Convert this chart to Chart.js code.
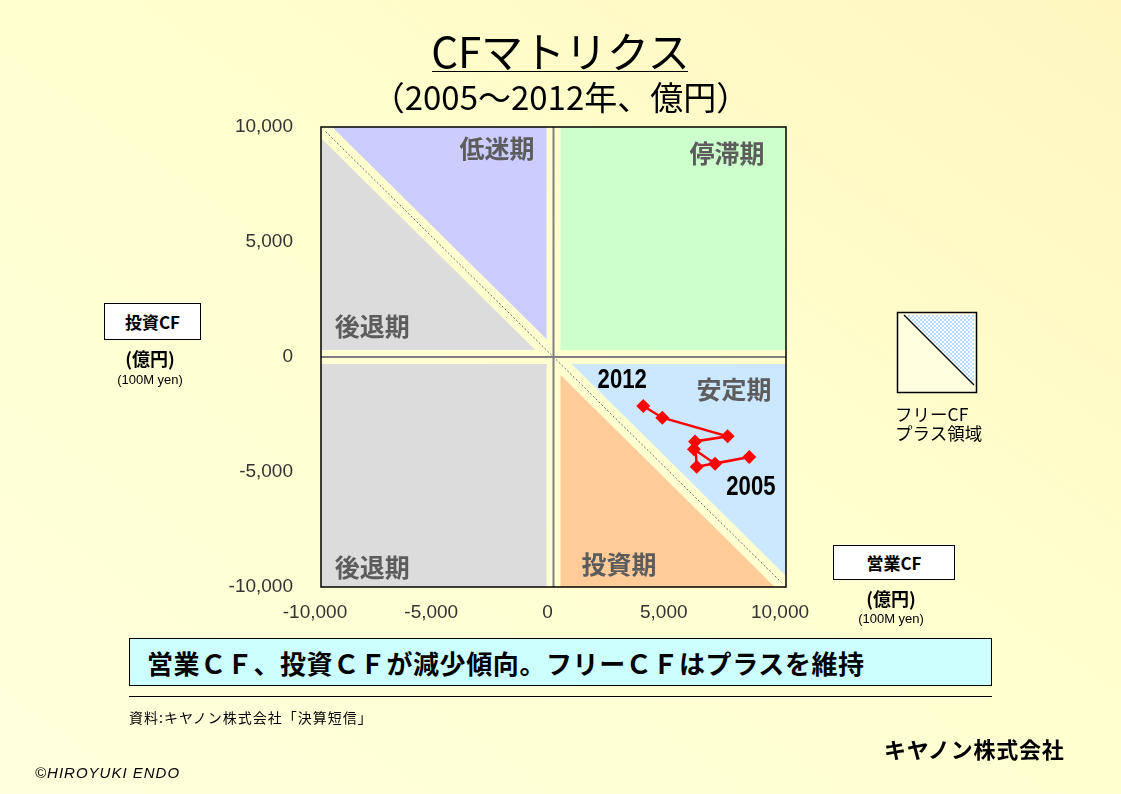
<!DOCTYPE html>
<html><head><meta charset="utf-8">
<script src="https://cdn.jsdelivr.net/npm/chart.js@4.4.0/dist/chart.umd.min.js"></script>
<style>
html,body{margin:0;padding:0}
body{width:1121px;height:794px;position:relative;overflow:hidden;background:linear-gradient(to bottom left,#fff6bf 0%,#ffffcf 45%,#ffffdc 100%);font-family:"Noto Sans CJK JP",sans-serif;color:#000}
.abs{position:absolute;white-space:nowrap}
#c{position:absolute;left:0;top:0}
</style></head><body>
<canvas id="c" width="1121" height="794"></canvas>
<div class="abs" style="left:0;width:1121px;top:27px;height:46px;line-height:46px;text-align:center;font-size:42px">CFマトリクス</div>
<div class="abs" style="left:432px;width:256px;top:71px;border-top:1.5px solid #000"></div>
<div class="abs" style="left:0;width:1121px;top:77px;height:38px;line-height:38px;text-align:center;font-size:33px">（2005～2012年、億円）</div>

<div class="abs" style="left:104px;top:303px;width:95px;height:35px;background:#fff;border:1px solid #000;text-align:center;line-height:35px;font-size:17px;font-weight:bold">投資CF</div>
<div class="abs" style="left:90px;width:120px;top:346px;text-align:center;font-size:18px;font-weight:bold;line-height:24px">(億円)</div>
<div class="abs" style="left:90px;width:120px;top:371px;text-align:center;font-size:13px;line-height:18px;font-family:'Liberation Sans',sans-serif">(100M yen)</div>

<div class="abs" style="left:833px;top:545px;width:120px;height:33px;background:#fff;border:1px solid #000;text-align:center;line-height:33px;font-size:17px;font-weight:bold">営業CF</div>
<div class="abs" style="left:831px;width:120px;top:586px;text-align:center;font-size:18px;font-weight:bold;line-height:24px">(億円)</div>
<div class="abs" style="left:831px;width:120px;top:610px;text-align:center;font-size:13px;line-height:18px;font-family:'Liberation Sans',sans-serif">(100M yen)</div>

<svg class="abs" style="left:890px;top:305px" width="100" height="95">
 <defs><pattern id="chk" width="4" height="4" patternUnits="userSpaceOnUse">
  <rect width="4" height="4" fill="#ffffff"/><rect width="2" height="2" fill="#b8dcff"/><rect x="2" y="2" width="2" height="2" fill="#b8dcff"/></pattern></defs>
 <rect x="7.5" y="7.5" width="79" height="80" fill="#ffffe0" stroke="#000" stroke-width="1.5"/>
 <polygon points="14,10 84,10 84,80" fill="url(#chk)"/>
 <line x1="14" y1="10" x2="84" y2="80" stroke="#000" stroke-width="1.2"/>
</svg>
<div class="abs" style="left:895px;top:404px;font-size:17.5px;line-height:19px">フリーCF<br>プラス領域</div>

<div class="abs" style="left:129px;top:638px;width:861px;height:46px;background:#ccffff;border:1px solid #000;"></div>
<div class="abs" style="left:147px;top:640px;height:46px;line-height:46px;font-size:26px;font-weight:bold;letter-spacing:0.6px">営業ＣＦ、投資ＣＦが減少傾向。フリーＣＦはプラスを維持</div>
<div class="abs" style="left:129px;width:863px;top:696px;border-top:1px solid #000"></div>
<div class="abs" style="left:129px;top:707px;font-size:14px;line-height:20px;letter-spacing:1px">資料:キヤノン株式会社「決算短信」</div>
<div class="abs" style="left:884px;top:734px;font-size:22px;line-height:28px;font-weight:bold;letter-spacing:0.8px">キヤノン株式会社</div>
<div class="abs" style="left:35px;top:763px;font-size:15px;line-height:20px;font-style:italic;letter-spacing:1px;font-family:'Liberation Sans',sans-serif">©HIROYUKI  ENDO</div>

<script>
// ---- data ----
const YEARS = ['2005','2006','2007','2008','2009','2010','2011','2012'];
const OPERATING_CF = [6040, 6950, 8420, 6160, 6090, 7490, 4680, 3860];
const INVESTING_CF = [-4010, -4640, -4350, -4770, -3670, -3450, -2640, -2130];
const AXIS_MIN = -10000, AXIS_MAX = 10000, AXIS_STEP = 5000;
const QUADRANT_LABELS = ['低迷期','停滞期','後退期','安定期','後退期','投資期'];

const points = YEARS.map((y,i)=>({x:OPERATING_CF[i], y:INVESTING_CF[i]}));

// styling / layout of the background matrix (value units)
const GAP = 300, DGAP = 480;
const regions = [
  {color:'#dcdcdc', pts:[[AXIS_MIN,GAP],[AXIS_MIN,AXIS_MAX-DGAP],[-DGAP-GAP,GAP]]},
  {color:'#ccccff', pts:[[AXIS_MIN+DGAP,AXIS_MAX],[-GAP,AXIS_MAX],[-GAP,DGAP+GAP]]},
  {color:'#ccffcc', pts:[[GAP,GAP],[GAP,AXIS_MAX],[AXIS_MAX,AXIS_MAX],[AXIS_MAX,GAP]]},
  {color:'#dcdcdc', pts:[[AXIS_MIN,AXIS_MIN],[AXIS_MIN,-GAP],[-GAP,-GAP],[-GAP,AXIS_MIN]]},
  {color:'#ffcc99', pts:[[GAP,-GAP-DGAP],[GAP,AXIS_MIN],[AXIS_MAX-DGAP,AXIS_MIN]]},
  {color:'#cce8ff', pts:[[GAP+DGAP,-GAP],[AXIS_MAX,-GAP],[AXIS_MAX,AXIS_MIN+DGAP]]}
];
const labelAnchors = [[-2430,9090],[7460,8870],[-7800,1350],[7760,-1350],[-7800,-9090],[2820,-8960]];

const matrixPlugin = {
  id:'matrix',
  beforeDatasetsDraw(chart){
    const {ctx, chartArea:a, scales:{x,y}} = chart;
    ctx.save();
    regions.forEach(r=>{
      ctx.beginPath();
      r.pts.forEach((p,i)=>{const px=x.getPixelForValue(p[0]), py=y.getPixelForValue(p[1]); i?ctx.lineTo(px,py):ctx.moveTo(px,py);});
      ctx.closePath(); ctx.fillStyle=r.color; ctx.fill();
    });
    ctx.strokeStyle='#808080'; ctx.lineWidth=2;
    const x0=x.getPixelForValue(0), y0=y.getPixelForValue(0);
    ctx.beginPath(); ctx.moveTo(x0,a.top); ctx.lineTo(x0,a.bottom); ctx.moveTo(a.left,y0); ctx.lineTo(a.right,y0); ctx.stroke();
    ctx.strokeStyle='#6a6a6a'; ctx.lineWidth=1; ctx.setLineDash([2,2]);
    ctx.beginPath();
    ctx.moveTo(x.getPixelForValue(-9800), y.getPixelForValue(9800));
    ctx.lineTo(x.getPixelForValue(9800), y.getPixelForValue(-9800));
    ctx.stroke(); ctx.setLineDash([]);
    ctx.strokeStyle='#000'; ctx.lineWidth=1.5;
    ctx.strokeRect(a.left, a.top, a.right-a.left, a.bottom-a.top);
    ctx.fillStyle='#5c5c5c'; ctx.font='bold 25px "Noto Sans CJK JP"'; ctx.textAlign='center'; ctx.textBaseline='middle';
    QUADRANT_LABELS.forEach((t,i)=>ctx.fillText(t, x.getPixelForValue(labelAnchors[i][0]), y.getPixelForValue(labelAnchors[i][1])+1));
    ctx.restore();
  },
  afterDatasetsDraw(chart){
    const {ctx, scales:{x,y}} = chart;
    const last = points.length-1;
    const draw = (txt, px, py) => {
      ctx.save();
      ctx.translate(px, py); ctx.scale(0.82, 1);
      ctx.fillStyle='#000'; ctx.font='bold 27px "Liberation Sans", sans-serif'; ctx.textAlign='center'; ctx.textBaseline='middle';
      ctx.fillText(txt, 0, 0);
      ctx.restore();
    };
    draw(YEARS[last], x.getPixelForValue(points[last].x)-21, y.getPixelForValue(points[last].y)-25);
    draw(YEARS[0], x.getPixelForValue(points[0].x)+57, y.getPixelForValue(points[0].y)+38);
  }
};

const fmt = v => Number(v).toLocaleString('en-US');
new Chart(document.getElementById('c'), {
  type:'scatter',
  data:{datasets:[{
    data:points, showLine:true, borderColor:'#ff0000', borderWidth:2.5,
    pointStyle:'rectRot', pointRadius:7, pointHoverRadius:7,
    pointBackgroundColor:'#ff0000', pointBorderColor:'#ff0000', pointBorderWidth:0
  }]},
  options:{
    responsive:false, animation:false, devicePixelRatio:1,
    layout:{padding:{left:0, top:127, right:335, bottom:167}},
    plugins:{legend:{display:false}, tooltip:{enabled:false}},
    scales:{
      x:{type:'linear', min:AXIS_MIN, max:AXIS_MAX,
         grid:{display:false, drawTicks:false}, border:{display:false},
         afterFit(s){s.height=40;},
         ticks:{stepSize:AXIS_STEP, callback:fmt, padding:14, labelOffset:-6, maxRotation:0, color:'#333', font:{family:'Liberation Sans', size:19}}},
      y:{type:'linear', min:AXIS_MIN, max:AXIS_MAX,
         grid:{display:false, drawTicks:false}, border:{display:false},
         afterFit(s){s.width=321;},
         ticks:{stepSize:AXIS_STEP, callback:fmt, padding:28, color:'#333', font:{family:'Liberation Sans', size:19}}}
    }
  },
  plugins:[matrixPlugin]
});
</script>
</body></html>
